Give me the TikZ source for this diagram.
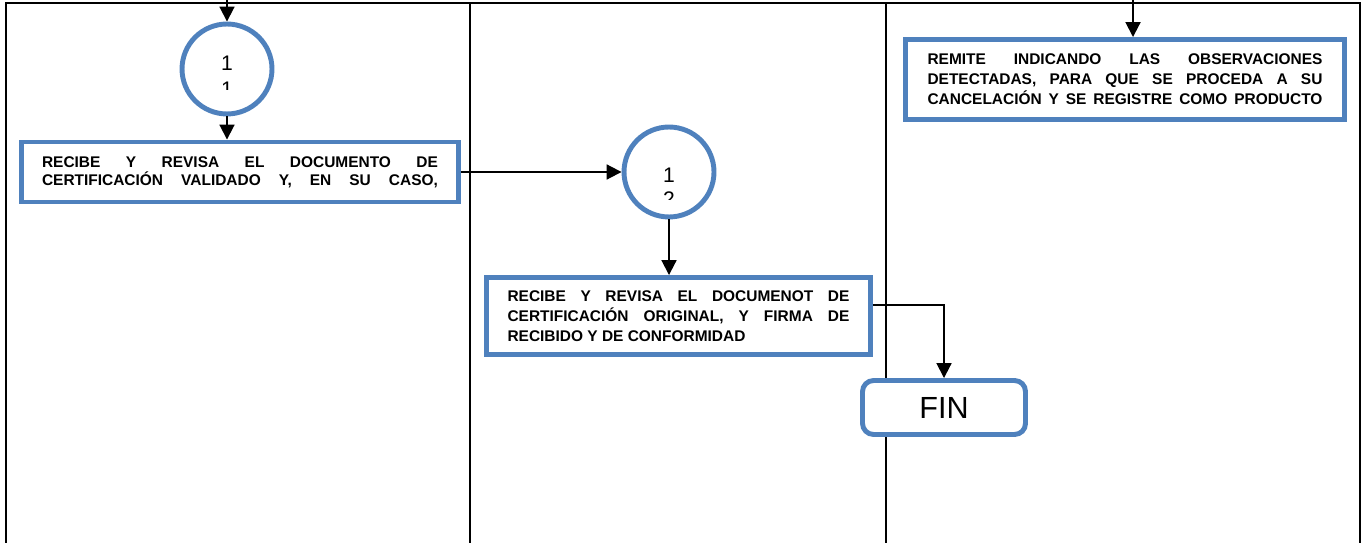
\documentclass[tikz,border=0pt]{standalone}
\usepackage{fontspec}
\setmainfont{Liberation Sans}
\usetikzlibrary{arrows.meta}
\definecolor{azul}{HTML}{4F81BD}

\begin{document}
\begin{tikzpicture}[x=0.02cm, y=-0.02cm,
  caja/.style={rectangle, draw=azul, line width=2.8pt, fill=white, inner sep=0pt, align=center},
  circulo/.style={circle, draw=azul, line width=2.8pt, fill=white, minimum size=1.8cm, inner sep=0pt},
  cifra/.style={inner sep=0pt, font=\fontsize{12}{14}\selectfont},
  linea/.style={line width=1.6pt},
  flecha/.style={line width=1.1pt, -{Triangle[width=8.5pt,length=8.5pt]}}]
\useasboundingbox (0,0) rectangle (1364,543);

% carriles
\draw [linea] (6,543) -- (6,3) -- (1360,3) -- (1360,543);
\draw [linea] (470,3) -- (470,543);
\draw [linea] (886,3) -- (886,543);

% conectores de pagina
\node [circulo] (c11) at (227,69) {};
\node [cifra] (c11a) at (227,63.5) {1};
\begin{scope}
\clip (200,76) rectangle (254,90);
\node [cifra] (c11b) at (227,89.5) {1};
\end{scope}

\node [circulo] (c12) at (669,172) {};
\node [cifra] (c12a) at (669,175.5) {1};
\begin{scope}
\clip (640,186) rectangle (698,200);
\node [cifra] (c12b) at (669,199.5) {2};
\end{scope}

% actividades
\node [caja, minimum width=8.74cm, minimum height=1.2cm, font=\bfseries\fontsize{8.8}{10.3}\selectfont] (b1) at (240,172) {\makebox[7.92cm][s]{RECIBE Y REVISA EL DOCUMENTO DE}\\
\makebox[7.92cm][s]{CERTIFICACIÓN VALIDADO Y, EN SU CASO,}};

\node [caja, minimum width=7.68cm, minimum height=1.54cm, font=\bfseries\fontsize{8.8}{11.5}\selectfont] (b2) at (678.5,316) {\makebox[6.84cm][s]{RECIBE Y REVISA EL DOCUMENOT DE}\\
\makebox[6.84cm][s]{CERTIFICACIÓN ORIGINAL, Y FIRMA DE}\\
\makebox[6.84cm][l]{RECIBIDO Y DE CONFORMIDAD}};

\node [caja, minimum width=8.78cm, minimum height=1.6cm, font=\bfseries\fontsize{8.8}{11.3}\selectfont] (b3) at (1125,79.5) {\makebox[7.9cm][s]{REMITE INDICANDO LAS OBSERVACIONES}\\
\makebox[7.9cm][s]{DETECTADAS, PARA QUE SE PROCEDA A SU}\\
\makebox[7.9cm][s]{CANCELACIÓN Y SE REGISTRE COMO PRODUCTO}};

\node [rectangle, rounded corners=0.22cm, draw=azul, line width=2.8pt, fill=white, minimum width=3.26cm, minimum height=1.08cm, font=\fontsize{17.4}{20}\selectfont] (fin) at (944,407.5) {FIN};

% flechas
\coordinate (e11) at (227,0);
\coordinate (e3) at (1133,0);
\draw [flecha] (e11) -- (c11);
\draw [flecha] (c11) -- (c11 |- b1.north);
\draw [flecha] (b1.east) -- (c12.west);
\draw [flecha] (c12) -- (c12 |- b2.north);
\draw [flecha] ([yshift=0.22cm]b2.east) -| (fin.north);
\draw [flecha] (e3) -- (e3 |- b3.north);
\end{tikzpicture}
\end{document}
